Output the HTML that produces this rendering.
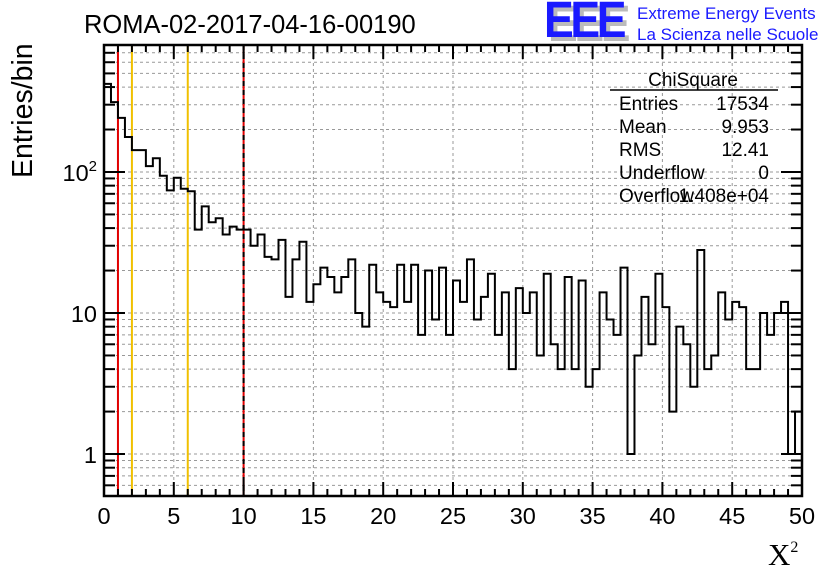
<!DOCTYPE html>
<html><head><meta charset="utf-8"><style>
html,body{margin:0;padding:0;background:#fff;}
svg{display:block;font-family:"Liberation Sans",sans-serif;}
</style></head><body>
<svg id="chart" width="836" height="572" viewBox="0 0 836 572">
<rect x="0" y="0" width="836" height="572" fill="#fff"/>
<g id="grid"></g>
<g id="cuts"></g>
<path id="hist" fill="none" stroke="#000" stroke-width="2"/>
<g id="axes"></g>
<text x="84" y="33" font-size="25.5">ROMA-02-2017-04-16-00190</text>
<g>
<text x="548" y="41" font-size="46" font-weight="bold" fill="#bbb" letter-spacing="-3.5" transform="translate(548,41) scale(0.97,1.1) translate(-548,-41)">EEE</text>
<text x="544" y="37" font-size="46" font-weight="bold" fill="#1a1aff" letter-spacing="-3.5" transform="translate(544,37) scale(0.97,1.1) translate(-544,-37)">EEE</text>
<text x="637" y="19" font-size="17" fill="#1a1aff">Extreme Energy Events</text>
<text x="637" y="40" font-size="17" fill="#1a1aff">La Scienza nelle Scuole</text>
</g>
<g font-size="19">
<text x="693" y="86" text-anchor="middle">ChiSquare</text>
<line x1="610" y1="90" x2="778" y2="90" stroke="#000" stroke-width="1.5"/>
<text x="619" y="110">Entries</text><text x="769" y="110" text-anchor="end">17534</text>
<text x="619" y="133">Mean</text><text x="769" y="133" text-anchor="end">9.953</text>
<text x="619" y="156">RMS</text><text x="769" y="156" text-anchor="end">12.41</text>
<text x="619" y="179">Underflow</text><text x="769" y="179" text-anchor="end">0</text>
<text x="619" y="202">Overflow</text><text x="769" y="202" text-anchor="end">1.408e+04</text>
</g>
<text transform="translate(32,178) rotate(-90)" font-size="28.5">Entries/bin</text>
<text x="768" y="565" font-size="31" font-family="Liberation Serif,serif">X<tspan font-size="16" dy="-13">2</tspan></text>
</svg>
<script>
const counts = [421,313,242,177,143,143,110,125,94,74,91,76,73,39,57,44,47,36,41,39,
39,30,36,25,24,33,13,24,32,12,16,21,18,14,18,24,10,8,22,14,
12,11,22,12,22,7,20,9,21,7,17,12,24,9,13,19,7,14,4,15,
10,14,5,19,6,4,18,4,17,3,4,14,9,7,21,1,5,13,6,19,
11,2,8,6,3,28,4,5,14,9,12,11,4,4,10,7,10,12,1,2];
const xTicks = [0,5,10,15,20,25,30,35,40,45,50];
const yTickLabels = ["1","10","10²"];
const cutSolid = [[1,"#e00000"],[2,"#f0c000"],[6,"#f0c000"]];
const cutDashed = [10];
const binWidth = 0.5, xMin = 0, xMax = 50, yMin = 0.504, yMax = 795;
const L=104,R=802,T=45,B=496;
const X = v => L + (v - xMin) / (xMax - xMin) * (R - L);
const Y = v => B - (Math.log10(v) - Math.log10(yMin)) / (Math.log10(yMax) - Math.log10(yMin)) * (B - T);
const NS="http://www.w3.org/2000/svg";
function mk(tag, attrs, parent){const e=document.createElementNS(NS,tag);for(const k in attrs)e.setAttribute(k,attrs[k]);parent.appendChild(e);return e;}
const grid=document.getElementById('grid'), axes=document.getElementById('axes'), cuts=document.getElementById('cuts');
xTicks.forEach(t=>{ if(t>xMin&&t<xMax){const l=mk('line',{x1:X(t),x2:X(t),y1:T,y2:B,stroke:'#999','stroke-dasharray':'3,3'},grid);

}});
for(let d=-1; d<=2; d++){for(let k=1;k<=9;k++){const v=k*Math.pow(10,d); if(v<yMin||v>yMax) continue;
 const y=Y(v);
 const g=mk('line',{x1:L,x2:R,y1:y,y2:y,stroke:'#999','stroke-dasharray':'3,3'},grid);
 
 
 const major=k===1, len=major?21:11;
 mk('line',{x1:L,x2:L+len,y1:y,y2:y,stroke:'#000','stroke-width':2},axes);
 mk('line',{x1:R-len,x2:R,y1:y,y2:y,stroke:'#000','stroke-width':2},axes);
}}
cutSolid.forEach(c=>{const l=mk('line',{x1:X(c[0]),x2:X(c[0]),y1:T,y2:B,stroke:c[1],'stroke-width':2},cuts);

});
cutDashed.forEach(c=>{mk('line',{x1:X(c),x2:X(c),y1:T,y2:B,stroke:'#e00000','stroke-width':2},cuts);
const l=mk('line',{x1:X(c),x2:X(c),y1:T,y2:B,stroke:'#000','stroke-width':2,'stroke-dasharray':'5,4'},cuts);

});
let d='';
counts.forEach((c,i)=>{const x0=X(xMin+i*binWidth),x1=X(xMin+(i+1)*binWidth);const y=Y(Math.max(c,yMin));
 d+=(i===0?'M'+x0+','+y:'L'+x0+','+y)+'L'+x1+','+y;});
document.getElementById('hist').setAttribute('d',d);
mk('rect',{x:L,y:T,width:R-L,height:B-T,fill:'none',stroke:'#000','stroke-width':2.5},axes);
for(let v=xMin; v<=xMax+1e-9; v+=1){const x=X(v); const major=(v%5===0); const len=major?14:7;
 mk('line',{x1:x,x2:x,y1:B,y2:B-len,stroke:'#000','stroke-width':2},axes);
 mk('line',{x1:x,x2:x,y1:T,y2:T+len,stroke:'#000','stroke-width':2},axes);}
xTicks.forEach(t=>{const tx=mk('text',{x:X(t),y:524,'font-size':23.5,'text-anchor':'middle'},axes);tx.textContent=t;

});
yTickLabels.forEach((s,i)=>{const y=Y(Math.pow(10,i));const tx=mk('text',{x:97,y:y+9,'font-size':23.5,'text-anchor':'end'},axes);
 if(i===2){tx.innerHTML='10<tspan font-size="15" dy="-10">2</tspan>';} else tx.textContent=s;
 
 });
</script>
</body></html>
